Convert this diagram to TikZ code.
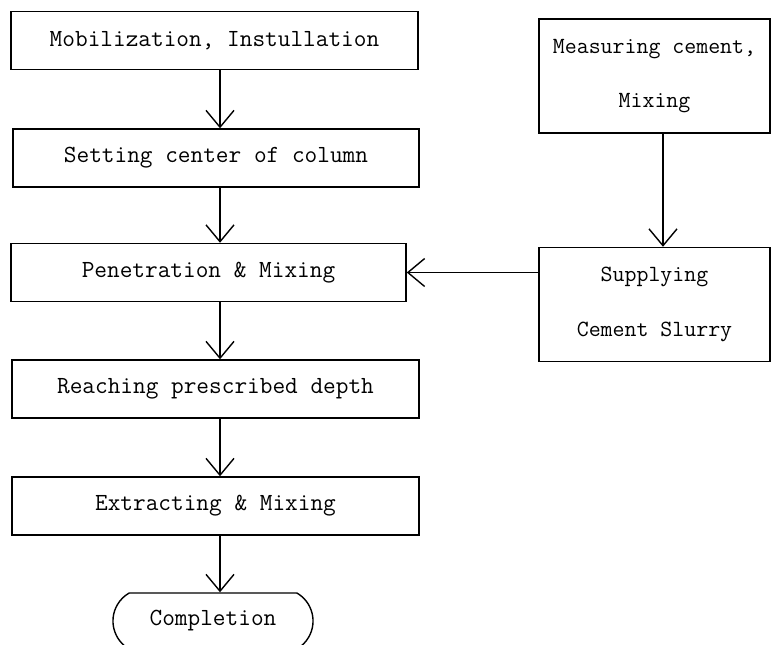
\documentclass[tikz,border=0pt]{standalone}
\usetikzlibrary{shapes.misc,arrows.meta,positioning}

\begin{document}
\begin{tikzpicture}[x=0.025cm, y=-0.025cm,
    box/.style={draw, line width=1pt, inner sep=0pt, minimum height=1.45cm,
        font=\ttfamily\fontsize{17.5}{39}\selectfont},
    sidebox/.style={box, align=center, minimum width=5.775cm, minimum height=2.85cm,
        font=\ttfamily\fontsize{16.5}{39}\selectfont},
    flow/.style={-{Straight Barb[length=4.2mm,width=7mm]}, line width=1pt}]
    \useasboundingbox (0,0) rectangle (772,645);

    % Main steps
    \node[box, minimum width=10.175cm] (mob) at (214.5,40.5) {Mobilization, Instullation};
    \node[box, minimum width=10.15cm] (set) at (216,158) {Setting center of column};
    \node[box, minimum width=9.875cm] (pen) at (208.5,272.5) {Penetration \& Mixing};
    \node[box, minimum width=10.175cm] (reach) at (215.5,389) {Reaching prescribed depth};
    \node[box, minimum width=10.175cm] (ext) at (215.5,506) {Extracting \& Mixing};
    \node[draw, line width=1pt, rounded rectangle, rounded rectangle arc length=120,
        minimum width=5cm, minimum height=1.4cm, inner sep=0pt,
        font=\ttfamily\fontsize{17.5}{39}\selectfont] (done) at (213,621) {Completion};

    % Cement side
    \node[sidebox] (meas) at (654.5,76) {Measuring cement,\\Mixing};
    \node[sidebox] (sup) at (654.5,304.5) {Supplying\\Cement Slurry};

    % Lanes
    \coordinate (lane) at (220,0);
    \coordinate (rlane) at (663,0);

    % Arrows
    \draw[flow] (mob.south -| lane) -- (set.north -| lane);
    \draw[flow] (set.south -| lane) -- (pen.north -| lane);
    \draw[flow] (pen.south -| lane) -- (reach.north -| lane);
    \draw[flow] (reach.south -| lane) -- (ext.north -| lane);
    \draw[flow] (ext.south -| lane) -- (done.north -| lane);
    \draw[flow] (meas.south -| rlane) -- (sup.north -| rlane);
    \draw[flow] (sup.west |- pen.east) -- (pen.east);
\end{tikzpicture}
\end{document}
